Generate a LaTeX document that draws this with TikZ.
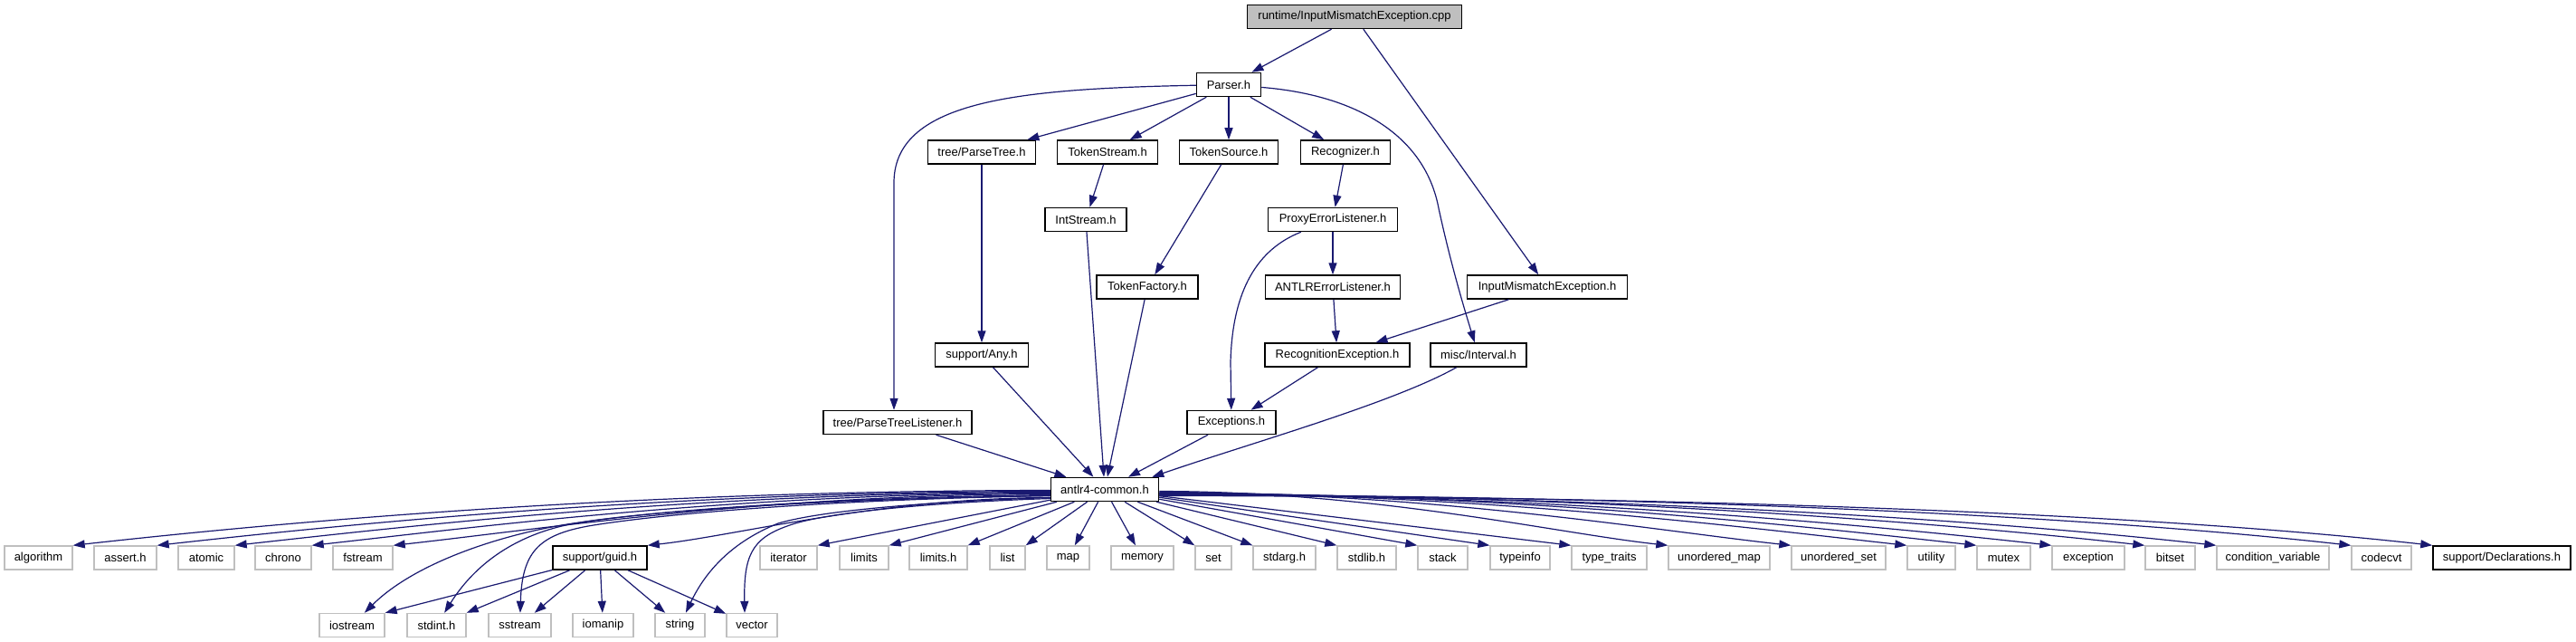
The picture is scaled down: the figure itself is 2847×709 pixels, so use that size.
\documentclass[tikz,border=0pt]{standalone}
\usepackage{fontspec}
\setmainfont{Liberation Sans}
\usetikzlibrary{arrows.meta}
\definecolor{edgecol}{RGB}{25,25,112}
\definecolor{sysgray}{RGB}{191,191,191}
\definecolor{rootfill}{RGB}{191,191,191}
\begin{document}
\begin{tikzpicture}[x=1bp,y=-1bp,
  base/.style={rectangle, inner sep=0pt, minimum height=26bp, font=\fontsize{13bp}{15bp}\selectfont, text=black, fill=white},
  hdr/.style={base, draw=black, line width=1.5bp},
  sys/.style={base, draw=sysgray, line width=1.4bp},
  root/.style={base, draw=black, line width=1.5bp, fill=rootfill},
  edge/.style={draw=edgecol, line width=1.2bp, -{Triangle[length=13bp,width=9bp]}}]
\fill[white] (0,0) rectangle (2847,709);
\useasboundingbox (0,0) rectangle (2847,709);

% ---- upper part
\node[root, minimum width=237bp] (cpp) at (1497,18.5) {runtime/InputMismatchException.cpp};
\node[hdr, minimum width=71bp] (parser) at (1358,93.5) {Parser.h};
\node[hdr, minimum width=119bp] (parsetree) at (1085,168) {tree/ParseTree.h};
\node[hdr, minimum width=111bp] (tokenstream) at (1224,168) {TokenStream.h};
\node[hdr, minimum width=109bp] (tokensource) at (1358,168) {TokenSource.h};
\node[hdr, minimum width=99bp] (recognizer) at (1487,168) {Recognizer.h};
\node[hdr, minimum width=90bp] (intstream) at (1200,242.5) {IntStream.h};
\node[hdr, minimum width=143bp] (proxy) at (1473,242.5) {ProxyErrorListener.h};
\node[hdr, minimum width=112bp] (tokenfactory) at (1268,317) {TokenFactory.h};
\node[hdr, minimum width=149bp] (antlrerr) at (1473,317) {ANTLRErrorListener.h};
\node[hdr, minimum width=177bp] (inputmis) at (1710,317) {InputMismatchException.h};
\node[hdr, minimum width=103bp] (any) at (1085,392) {support/Any.h};
\node[hdr, minimum width=160bp] (recogexc) at (1478,392) {RecognitionException.h};
\node[hdr, minimum width=106bp] (interval) at (1634,392) {misc/Interval.h};
\node[hdr, minimum width=164bp] (ptlistener) at (992,466.5) {tree/ParseTreeListener.h};
\node[hdr, minimum width=98bp] (exceptions) at (1361,466.5) {Exceptions.h};
\node[hdr, minimum width=119bp] (common) at (1221,540.5) {antlr4-common.h};

% ---- row 7
\foreach \n/\x/\w/\t in {
  algorithm/42.5/75/algorithm, assert/138.5/69/assert.h, atomic/228/62/atomic,
  chrono/313/62/chrono, fstream/401/66/fstream, iterator/871.5/63/iterator,
  limits/955/54/limits, limitsh/1037/64/limits.h, list/1113.5/39/list,
  map/1180.5/47/map, memory/1262.5/69/memory, set/1341/40/set,
  stdarg/1419.5/69/stdarg.h, stdlib/1510.5/65/stdlib.h, stack/1594.5/55/stack,
  typeinfo/1680/66/typeinfo, typetraits/1778.5/83/type\_traits,
  umap/1900/112/unordered\_map, uset/2032/104/unordered\_set,
  utility/2134.5/53/utility, mutex/2214.5/59/mutex, exception/2308/80/exception,
  bitset/2398.5/55/bitset, condvar/2512/124/condition\_variable, codecvt/2632/66/codecvt}
  {\node[sys, minimum width=\w bp] (\n) at (\x,616) {\t};}
\node[hdr, minimum width=104bp] (guid) at (663,616) {support/guid.h};
\node[hdr, minimum width=152bp] (decl) at (2765,616) {support/Declarations.h};

% ---- row 8
\foreach \n/\x/\w/\t in {
  iostream/389/72/iostream, stdint/482.5/65/stdint.h, sstream/574.5/69/sstream,
  iomanip/666.5/67/iomanip, string/751.5/55/string, vector/831/56/vector}
  {\node[sys, minimum width=\w bp] (\n) at (\x,690.5) {\t};}

% ---- upper edges
\draw[edge] (cpp) -- (parser);
\draw[edge] (cpp) -- (inputmis);
\draw[edge] (parser) -- (parsetree);
\draw[edge] (parser) -- (tokenstream);
\draw[edge] (parser) -- (tokensource);
\draw[edge] (parser) -- (recognizer);
\draw[edge] (parser) .. controls (1130,98) and (990,110) .. (988,200) -- ([xshift=-4bp]ptlistener.north);
\draw[edge] (parser) .. controls (1500,105) and (1575,150) .. (1590,230) .. controls (1603,290) and (1618,340) .. (interval);
\draw[edge] (parsetree) -- (any);
\draw[edge] (tokenstream) -- (intstream);
\draw[edge] (tokensource) -- (tokenfactory);
\draw[edge] (recognizer) -- (proxy);
\draw[edge] (intstream) -- (common);
\draw[edge] (tokenfactory) -- (common);
\draw[edge] (proxy) -- (antlrerr);
\draw[edge] (proxy) .. controls (1390,275) and (1362,320) .. (1360,400) -- (exceptions);
\draw[edge] (antlrerr) -- (recogexc);
\draw[edge] (inputmis) -- (recogexc);
\draw[edge] (recogexc) -- (exceptions);
\draw[edge] (any) -- (common);
\draw[edge] (ptlistener) -- (common);
\draw[edge] (exceptions) -- (common);
\draw[edge] (interval) .. controls (1540,445) and (1380,490) .. ([xshift=-8bp]common.north east);

% ---- common -> far left
\foreach \t/\ex/\dy in {algorithm/80/1, assert/173/2, atomic/259/3, chrono/344/4, fstream/434/5, guid/715/9}
  {\draw[edge] ([yshift={-\dy*1bp}]common.west) .. controls ({1162-0.43*(1162-\ex)},{541+\dy}) and ({\ex+0.22*(1162-\ex)},{603-0.025*(1162-\ex)}) .. (\t.north east);}

% ---- common -> row 8
\draw[edge] ([yshift=-6bp]common.west) .. controls (900,550) and (720,565) .. (640,577) .. controls (560,588) and (460,620) .. (iostream);
\draw[edge] ([yshift=-7bp]common.west) .. controls (900,551) and (700,566) .. (630,579) .. controls (580,589) and (530,615) .. (stdint);
\draw[edge] ([yshift=-7bp]common.west) .. controls (900,552) and (720,569) .. (650,581) .. controls (595,591) and (577,610) .. (sstream);
\draw[edge] ([yshift=-9bp]common.west) .. controls (1000,555) and (900,566) .. (860,578) .. controls (810,598) and (780,630) .. (string);
\draw[edge] ([yshift=-10bp]common.west) .. controls (1000,556) and (900,569) .. (870,581) .. controls (830,595) and (822,615) .. ([xshift=-8bp]vector.north);

% ---- common -> middle, straight
\foreach \t in {iterator, limits, limitsh, list} {\draw[edge] (common) -- (\t.north east);}
\foreach \t in {map, memory} {\draw[edge] (common) -- (\t);}
\foreach \t in {set, stdarg, stdlib, stack, typeinfo, typetraits} {\draw[edge] (common) -- (\t.north west);}

% ---- common -> far right
\foreach \t/\ex/\dy in {umap/1844/2, uset/1980/3, utility/2108/4, mutex/2185/4, exception/2268/5, bitset/2371/5, condvar/2450/6, codecvt/2599/6, decl/2689/7}
  {\draw[edge] ([yshift={-\dy*1bp}]common.east) .. controls ({1280+0.43*(\ex-1280)},{541+\dy}) and ({\ex-0.22*(\ex-1280)},{603-0.025*(\ex-1280)}) .. (\t.north west);}

% ---- guid -> row 8
\draw[edge] (guid) -- (iostream.north east);
\draw[edge] (guid) -- (stdint.north east);
\draw[edge] (guid) -- (sstream);
\draw[edge] (guid) -- (iomanip);
\draw[edge] (guid) -- (string);
\draw[edge] (guid) -- (vector);
\end{tikzpicture}
\end{document}
